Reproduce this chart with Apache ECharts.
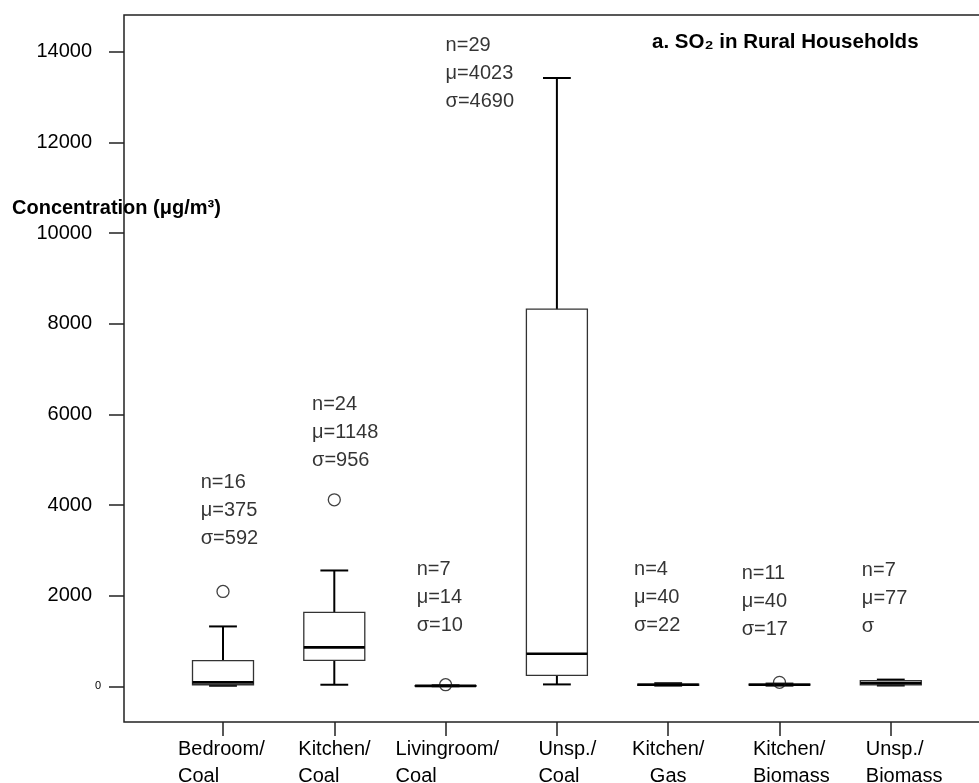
<!DOCTYPE html>
<html>
<head>
<meta charset="utf-8">
<script src="https://cdn.jsdelivr.net/npm/echarts@6/dist/echarts.min.js"></script>
<style>html,body{margin:0;padding:0;background:#fff;}#c{width:979px;height:783px;}</style>
</head>
<body>
<div id="c"></div>
<script>
// ---- data ----
const categories = ['Bedroom/\nCoal', 'Kitchen/\nCoal', 'Livingroom/\nCoal', 'Unsp./\nCoal', 'Kitchen/\nGas', 'Kitchen/\nBiomass', 'Unsp./\nBiomass'];
const boxMin    = [15,   37,   4,   44,    18, 18, 20];
const boxQ1     = [37,   573,  8,   243,   26, 30, 35];
const boxMedian = [88,   860,  11,  721,   36, 38, 70];
const boxQ3     = [567,  1632, 16,  8321,  52, 48, 125];
const boxMax    = [1323, 2557, 24,  13420, 70, 62, 150];
const outlierCat = [0, 1, 2, 5];
const outlierVal = [2095, 4116, 38, 90];
const statN     = [16, 24, 7, 29, 4, 11, 7];
const statMu    = [375, 1148, 14, 4023, 40, 40, 77];
const statSigma = [592, 956, 10, 4690, 22, 17, null];
const annoX = [-0.2, 0.8, 1.74, 2.0, 3.693, 4.66, 5.74];
const annoY = [3874, 5598, 1958, 13513, 1958, 1878, 1945];
const yTicks = [0, 2000, 4000, 6000, 8000, 10000, 12000, 14000];
const yTickLabels = [2000, 4000, 6000, 8000, 10000, 12000, 14000];

// ---- styles ----
const FONT = 'Liberation Sans, Arial, sans-serif';
const BOX_HALF = 0.274;  // category units
const CAP_HALF = 0.125;
const labelWidths = [90, 72, 100, 37, null, 53, 50];

const richX = {};
labelWidths.forEach((w, i) => {
  const s = {fontSize: 20, lineHeight: 27, fontFamily: FONT, color: '#000'};
  if (w) { s.width = w; s.align = 'left'; } else { s.align = 'center'; }
  richX['l' + i] = s;
});

const boxData = categories.map((c, i) => [i, boxMin[i], boxQ1[i], boxMedian[i], boxQ3[i], boxMax[i]]);
const outlierData = outlierCat.map((c, i) => [c, outlierVal[i]]);
const annoData = annoX.map((x, i) => [x, annoY[i], i]);

function renderBox(params, api) {
  const x = api.value(0);
  const pMin = api.coord([x, api.value(1)]);
  const pQ1 = api.coord([x, api.value(2)]);
  const pMed = api.coord([x, api.value(3)]);
  const pQ3 = api.coord([x, api.value(4)]);
  const pMax = api.coord([x, api.value(5)]);
  const half = api.size([BOX_HALF, 0])[0];
  const cap = api.size([CAP_HALF, 0])[0];
  const cx = pMed[0];
  const wStyle = {stroke: '#000', lineWidth: 2};
  return {
    type: 'group',
    children: [
      {type: 'line', shape: {x1: cx, y1: pQ1[1], x2: cx, y2: pMin[1]}, style: wStyle},
      {type: 'line', shape: {x1: cx, y1: pQ3[1], x2: cx, y2: pMax[1]}, style: wStyle},
      {type: 'line', shape: {x1: cx - cap, y1: pMin[1], x2: cx + cap, y2: pMin[1]}, style: wStyle},
      {type: 'line', shape: {x1: cx - cap, y1: pMax[1], x2: cx + cap, y2: pMax[1]}, style: wStyle},
      {type: 'rect', shape: {x: cx - half, y: pQ3[1], width: half * 2, height: Math.max(pQ1[1] - pQ3[1], 0.5)},
        style: {fill: 'rgba(255,255,255,0)', stroke: '#333', lineWidth: 1.3}},
      {type: 'line', shape: {x1: cx - half, y1: pMed[1], x2: cx + half, y2: pMed[1]}, style: {stroke: '#000', lineWidth: 2.6}}
    ]
  };
}

const chart = echarts.init(document.getElementById('c'), null, {renderer: 'canvas'});
chart.setOption({
  backgroundColor: '#fff',
  animation: false,
  textStyle: {fontFamily: FONT},
  title: [
    {text: 'a. SO₂ in Rural Households', left: 652, top: 32, padding: 0,
     textStyle: {fontSize: 20.5, fontWeight: 'bold', color: '#000', fontFamily: FONT}},
    {text: 'Concentration (μg/m³)', left: 12, top: 198, padding: 0,
     textStyle: {fontSize: 20, fontWeight: 'bold', color: '#000', fontFamily: FONT}}
  ],
  grid: {left: 124, top: 15, right: -3, bottom: 61, show: true, borderColor: '#222', borderWidth: 1.5,
         backgroundColor: 'transparent', containLabel: false, outerBoundsMode: 'none'},
  xAxis: {
    type: 'value', min: -0.8895, max: 6.8195, position: 'bottom',
    axisLine: {show: false, onZero: false},
    splitLine: {show: false},
    axisTick: {show: true, length: 14, lineStyle: {color: '#222', width: 1.5}, customValues: [0, 1, 2, 3, 4, 5, 6]},
    axisLabel: {
      show: true, margin: 14, customValues: [0, 1, 2, 3, 4, 5, 6],
      formatter: v => {
        const i = Math.round(v);
        return categories[i].split('\n').map(s => '{l' + i + '|' + s + '}').join('\n');
      },
      rich: richX, fontSize: 20, color: '#000', fontFamily: FONT
    }
  },
  yAxis: [
    {
      type: 'value', min: -785, max: 14809, position: 'left',
      axisLine: {show: false, onZero: false},
      splitLine: {show: false},
      axisTick: {show: true, length: 15, lineStyle: {color: '#222', width: 1.5}, customValues: yTicks},
      axisLabel: {show: true, margin: 32, fontSize: 20, color: '#000', fontFamily: FONT, customValues: yTickLabels,
                  formatter: v => String(v)}
    },
    {
      type: 'value', min: -785, max: 14809, position: 'left', offset: 0,
      axisLine: {show: false, onZero: false}, splitLine: {show: false}, axisTick: {show: false},
      axisLabel: {show: true, margin: 23, fontSize: 11, color: '#000', fontFamily: FONT, customValues: [0],
                  formatter: v => String(v)}
    }
  ],
  series: [
    {
      type: 'custom', renderItem: renderBox, data: boxData,
      encode: {x: 0, y: [1, 2, 3, 4, 5]}, clip: false, z: 2
    },
    {
      type: 'scatter', data: outlierData, symbol: 'circle', symbolSize: 12,
      itemStyle: {color: 'rgba(255,255,255,0)', borderColor: '#111', borderWidth: 1.3}, z: 3
    },
    {
      type: 'scatter', data: annoData, symbolSize: 0, silent: true, z: 4,
      label: {
        show: true, position: 'right', distance: 0, fontSize: 20, lineHeight: 28, color: '#000', fontFamily: FONT,
        formatter: p => {
          const i = p.data[2];
          return 'n=' + statN[i] + '\nμ=' + statMu[i] + '\nσ' + (statSigma[i] != null ? '=' + statSigma[i] : '');
        }
      }
    }
  ]
});
</script>
</body>
</html>
